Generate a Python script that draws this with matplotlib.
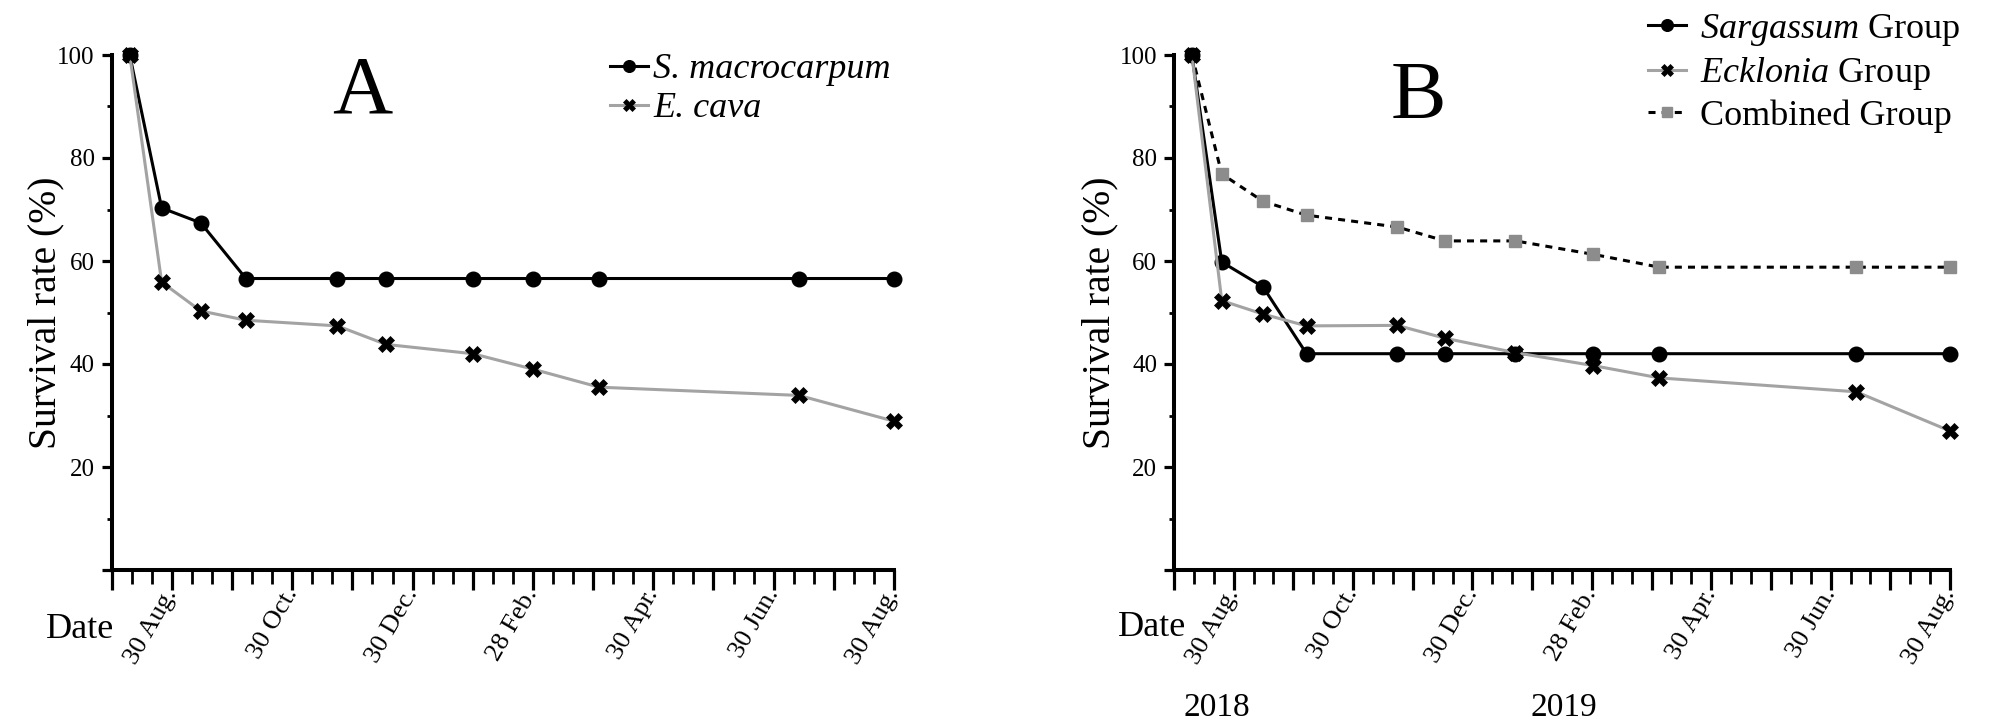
import matplotlib
matplotlib.use('Agg')
import matplotlib.pyplot as plt
from matplotlib.ticker import FixedLocator, FixedFormatter, MultipleLocator
import matplotlib.transforms as mtransforms

plt.rcParams['font.family'] = ['Liberation Serif', 'DejaVu Serif']
plt.rcParams['mathtext.fontset'] = 'custom'
plt.rcParams['mathtext.rm'] = 'Liberation Serif'
plt.rcParams['mathtext.it'] = 'Liberation Serif:italic'

# ---------------- data (x = months after 30 Jul 2018) ----------------
months_a = [0.3, 0.83, 1.48, 2.23, 3.75, 4.56, 6.0, 7.0, 8.1, 11.42, 13.0]
sarg_a = [100, 70.3, 67.4, 56.6, 56.6, 56.6, 56.6, 56.6, 56.6, 56.6, 56.6]
eck_a = [100, 55.9, 50.3, 48.5, 47.4, 43.8, 42.0, 39.0, 35.5, 33.9, 28.9]

months_b = [0.3, 0.8, 1.49, 2.22, 3.74, 4.54, 5.72, 7.02, 8.13, 11.43, 13.0]
sarg_b = [100, 59.8, 55.0, 42.0, 42.0, 42.0, 42.0, 42.0, 42.0, 42.0, 42.0]
eck_b = [100, 52.3, 49.7, 47.4, 47.5, 45.0, 42.2, 39.7, 37.3, 34.6, 27.0]
comb_b = [100, 76.9, 71.6, 68.9, 66.6, 63.9, 63.9, 61.3, 58.8, 58.8, 58.8]

month_ticks = list(range(0, 14))
month_labels = ['', '30 Aug.', '', '30 Oct.', '', '30 Dec.', '', '28 Feb.', '',
                '30 Apr.', '', '30 Jun.', '', '30 Aug.']
y_ticks = [0, 20, 40, 60, 80, 100]
y_labels = ['', '20', '40', '60', '80', '100']
years = ['2018', '2019']
year_pos = [0.72, 6.53]

labels_a = ['S. macrocarpum', 'E. cava']
labels_b = [r'$\mathit{Sargassum}$ Group', r'$\mathit{Ecklonia}$ Group', 'Combined Group']

W, H = 1993, 728
fig = plt.figure(figsize=(W / 100, H / 100), dpi=100)

y_bot, y_top = 570, 55
axA = fig.add_axes([111.7 / W, 1 - y_bot / H, (894 - 111.7) / W, (y_bot - y_top) / H])
axB = fig.add_axes([1174 / W, 1 - y_bot / H, (1950 - 1174) / W, (y_bot - y_top) / H])

GRAY_LINE = '#a3a3a3'
GRAY_SQ = '#8c8c8c'
LW = 2.2
MS_C = 10.5
MS_X = 11
MS_S = 8.5

def style_axes(ax):
    ax.set_xlim(0, 13)
    ax.set_ylim(0, 100)
    for s in ['top', 'right']:
        ax.spines[s].set_visible(False)
    for s in ['left', 'bottom']:
        ax.spines[s].set_linewidth(2.9)
    ax.xaxis.set_major_locator(FixedLocator(month_ticks))
    ax.xaxis.set_major_formatter(FixedFormatter(month_labels))
    ax.xaxis.set_minor_locator(MultipleLocator(1 / 3))
    ax.yaxis.set_major_locator(FixedLocator(y_ticks))
    ax.yaxis.set_major_formatter(FixedFormatter(y_labels))
    ax.yaxis.set_minor_locator(MultipleLocator(10))
    ax.tick_params(axis='x', which='major', length=14.4, width=2.3, pad=0, labelsize=19)
    ax.tick_params(axis='x', which='minor', length=10, width=2.0)
    ax.tick_params(axis='y', which='major', length=7.2, width=2.3, pad=5, labelsize=18)
    ax.tick_params(axis='y', which='minor', length=3.5, width=2.0)
    for lab in ax.get_xticklabels():
        lab.set_rotation(60)
        lab.set_ha('right')
        lab.set_va('center')
        lab.set_rotation_mode('anchor')
    ax.set_ylabel('Survival rate (%)', fontsize=28.5)

# ---------------- Panel A ----------------
axA.plot(months_a, sarg_a, color='black', lw=LW, marker='o', ms=MS_C,
         mfc='black', mec='black', clip_on=False, zorder=3, label=labels_a[0])
axA.plot(months_a, eck_a, color=GRAY_LINE, lw=LW, marker='X', ms=MS_X,
         mfc='black', mec='black', mew=0.5, clip_on=False, zorder=4, label=labels_a[1])
style_axes(axA)
axA.yaxis.set_label_coords(-0.061, 0.5)
axA.text(4.17, 1.0, 'A', transform=axA.get_xaxis_transform(), ha='center', va='top',
         fontsize=60)
axA.legend(loc='upper left', bbox_to_anchor=(610 / W, 1 - 53 / H),
           bbox_transform=fig.transFigure, frameon=False, borderpad=0,
           borderaxespad=0, handlelength=1.05, handletextpad=0.15,
           labelspacing=0.16, numpoints=1, markerscale=0.8,
           prop={'size': 26, 'style': 'italic'})

# ---------------- Panel B ----------------
axB.plot(months_b, comb_b, color='black', lw=LW, ls=(0, (2.3, 2.0)), marker='s',
         ms=MS_S, mfc=GRAY_SQ, mec=GRAY_SQ, clip_on=False, zorder=3, label=labels_b[2])
axB.plot(months_b, sarg_b, color='black', lw=LW, marker='o', ms=MS_C,
         mfc='black', mec='black', clip_on=False, zorder=4, label=labels_b[0])
axB.plot(months_b, eck_b, color=GRAY_LINE, lw=LW, marker='X', ms=MS_X,
         mfc='black', mec='black', mew=0.5, clip_on=False, zorder=5, label=labels_b[1])
style_axes(axB)
axB.yaxis.set_label_coords(-0.072, 0.5)
axB.text(4.1, 0.99, 'B', transform=axB.get_xaxis_transform(), ha='center', va='top',
         fontsize=60)
h, l = axB.get_legend_handles_labels()
order = [1, 2, 0]
axB.legend([h[i] for i in order], [l[i] for i in order], loc='upper left',
           bbox_to_anchor=(1648 / W, 1 - 12 / H), bbox_transform=fig.transFigure,
           frameon=False, borderpad=0, borderaxespad=0, handlelength=1.05,
           handletextpad=0.4, labelspacing=0.2, numpoints=1, markerscale=0.8,
           prop={'size': 26})

year_tr = mtransforms.blended_transform_factory(axB.transData, fig.transFigure)
for txt, xm in zip(years, year_pos):
    axB.text(xm, 1 - 708 / H, txt, transform=year_tr, ha='center', va='center', fontsize=24)

fig.text(114 / W, 1 - 629 / H, 'Date', ha='right', va='center', fontsize=26)
fig.text(1186 / W, 1 - 627 / H, 'Date', ha='right', va='center', fontsize=26)

fig.savefig('out.png', dpi=100, facecolor='white')
